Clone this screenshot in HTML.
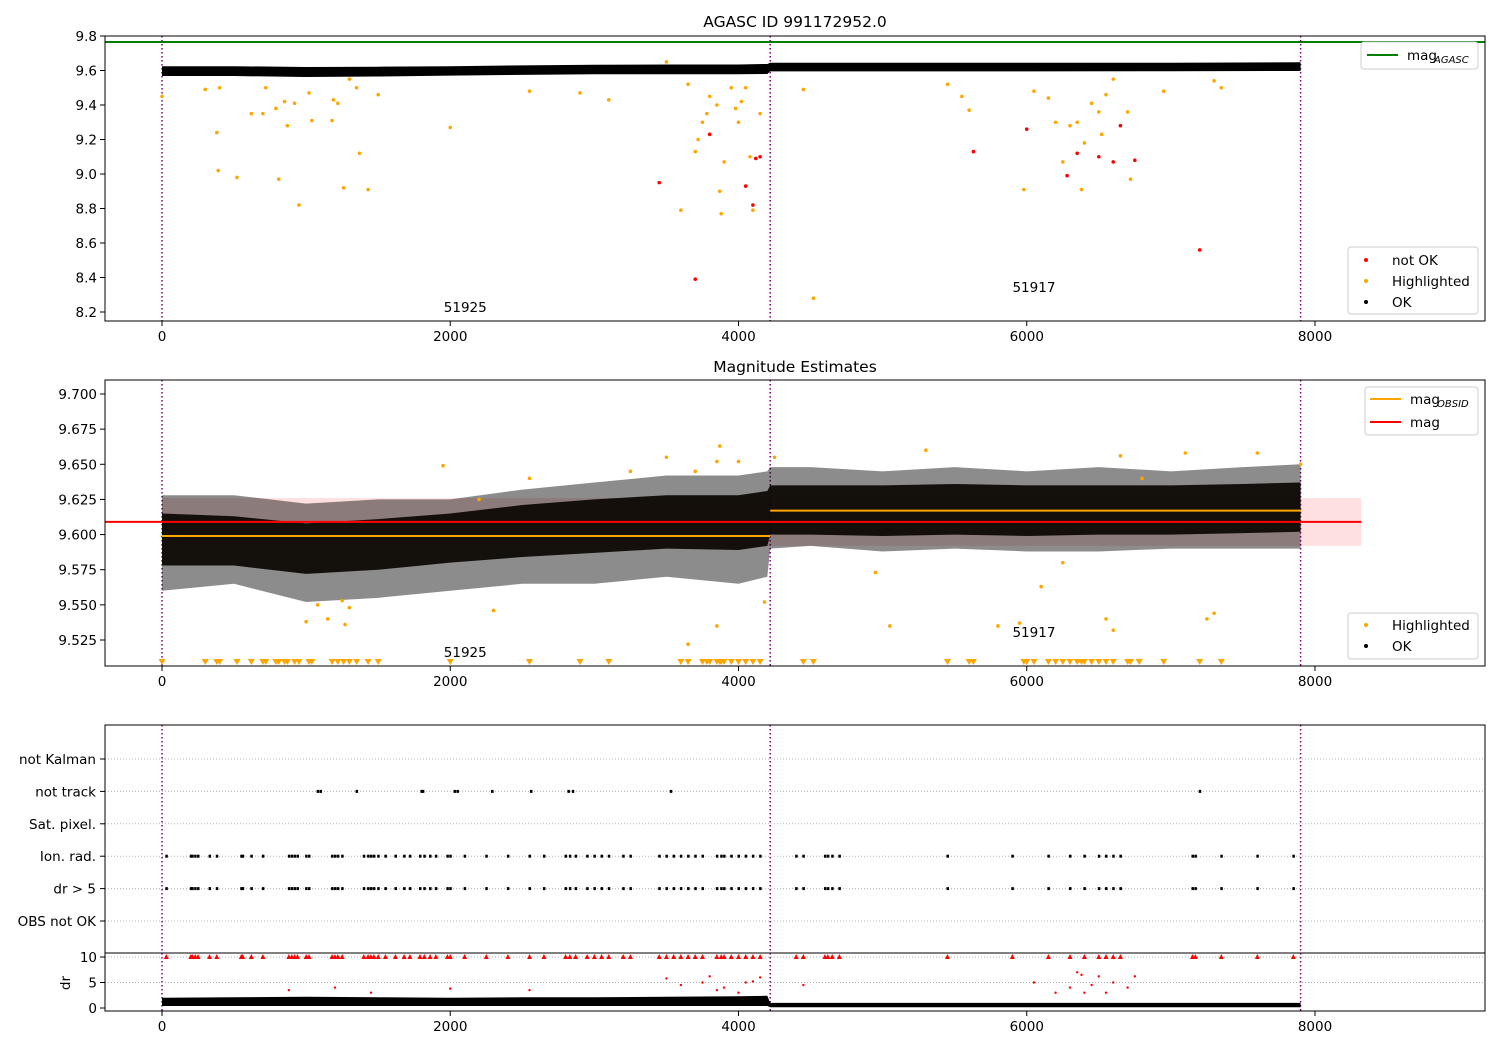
<!DOCTYPE html>
<html><head><meta charset="utf-8"><style>
body{margin:0;background:#fff}
svg{display:block;font-family:"DejaVu Sans","Liberation Sans",sans-serif}
</style></head><body>
<svg id="chart" width="1500" height="1050" viewBox="0 0 1500 1050" xmlns="http://www.w3.org/2000/svg"></svg>
<script>
// ---- data ----
const segmentBreaks = [0, 4220, 7900];
const obsidLabels = ["51925", "51917"];
const magAgasc = 9.765;
const topOkX = [0, 500, 1000, 1500, 2000, 2500, 3000, 3500, 4000, 4200, 4220, 5000, 6000, 7000, 7900];
const topOkLo = [9.568, 9.568, 9.562, 9.565, 9.57, 9.575, 9.578, 9.578, 9.578, 9.58, 9.595, 9.595, 9.595, 9.596, 9.597];
const topOkHi = [9.625, 9.625, 9.62, 9.622, 9.625, 9.63, 9.633, 9.635, 9.635, 9.638, 9.645, 9.645, 9.645, 9.645, 9.648];
const topHiX = [0,300,380,390,400,520,620,700,720,790,810,850,870,920,950,1020,1040,1180,1190,1220,1260,1300,1350,1370,1430,1500,2000,2550,2900,3100,3500,3600,3650,3700,3720,3750,3780,3800,3850,3870,3880,3900,3950,3980,4000,4020,4050,4080,4100,4150,4450,4520,5450,5550,5600,5980,6050,6150,6200,6250,6300,6350,6380,6400,6450,6500,6520,6550,6600,6700,6720,6950,7300,7350];
const topHiY = [9.45,9.49,9.24,9.02,9.5,8.98,9.35,9.35,9.5,9.38,8.97,9.42,9.28,9.41,8.82,9.47,9.31,9.31,9.43,9.41,8.92,9.55,9.5,9.12,8.91,9.46,9.27,9.48,9.47,9.43,9.65,8.79,9.52,9.13,9.2,9.3,9.35,9.45,9.4,8.9,8.77,9.07,9.5,9.38,9.3,9.42,9.5,9.1,8.79,9.35,9.49,8.28,9.52,9.45,9.37,8.91,9.48,9.44,9.3,9.07,9.28,9.3,8.91,9.18,9.41,9.36,9.23,9.46,9.55,9.36,8.97,9.48,9.54,9.5];
const topBadX = [3450,3700,3800,4050,4100,4120,4150,5630,6000,6280,6350,6500,6600,6650,6750,7200];
const topBadY = [8.95,8.39,9.23,8.93,8.82,9.09,9.1,9.13,9.26,8.99,9.12,9.1,9.07,9.28,9.08,8.56];
const topTicksY = [9.8,9.6,9.4,9.2,9.0,8.8,8.6,8.4,8.2];
const xTicks = [0,2000,4000,6000,8000];

const midX = [0,500,1000,1500,2000,2500,3000,3500,4000,4200,4220,4500,5000,5500,6000,6500,7000,7500,7900];
const midOuterLo = [9.56,9.565,9.552,9.555,9.56,9.565,9.565,9.57,9.565,9.57,9.59,9.592,9.588,9.59,9.588,9.588,9.59,9.59,9.59];
const midOuterHi = [9.628,9.628,9.622,9.625,9.625,9.632,9.637,9.642,9.642,9.645,9.648,9.648,9.645,9.648,9.645,9.648,9.645,9.648,9.65];
const midCoreLo = [9.578,9.578,9.572,9.575,9.58,9.584,9.587,9.59,9.589,9.592,9.6,9.6,9.599,9.6,9.599,9.6,9.6,9.601,9.602];
const midCoreHi = [9.615,9.613,9.608,9.611,9.615,9.621,9.625,9.628,9.628,9.631,9.635,9.635,9.635,9.636,9.635,9.635,9.635,9.636,9.637];
const magObsid = [9.599, 9.617];
const magMean = 9.609;
const magStd = 0.017;
const midHiX = [1950,2300,1000,1080,1150,1250,1270,1300,3500,3650,3850,4000,3700,4180,5050,5800,5950,6100,6250,6550,6600,7250,7300,4950,4250,3870,2200,2550,3250,3850,5300,6650,6800,7100,7600,7900];
const midHiY = [9.649,9.546,9.538,9.55,9.54,9.553,9.536,9.548,9.655,9.522,9.535,9.652,9.645,9.552,9.535,9.535,9.537,9.563,9.58,9.54,9.532,9.54,9.544,9.573,9.655,9.663,9.625,9.64,9.645,9.652,9.66,9.656,9.64,9.658,9.658,9.65];
const midTriX = [0,300,380,400,520,620,700,720,790,810,850,870,920,950,1020,1040,1180,1220,1260,1300,1350,1430,1500,2000,2550,2900,3100,3600,3650,3750,3780,3800,3850,3870,3880,3900,3950,4000,4050,4100,4150,4450,4520,5450,5600,5630,5980,6000,6050,6150,6200,6250,6300,6350,6380,6400,6450,6500,6550,6600,6700,6720,6780,6950,7200,7350];
const midTicksY = [9.700,9.675,9.650,9.625,9.600,9.575,9.550,9.525];

const flagNames = ["not Kalman","not track","Sat. pixel.","Ion. rad.","dr > 5","OBS not OK"];
const notTrackX = [1080,1100,1350,1800,1810,2030,2050,2290,2560,2820,2850,3530,7200];
const ionRadX = [30,200,210,230,250,330,380,550,560,620,700,880,900,920,940,1000,1020,1180,1200,1220,1250,1400,1430,1450,1470,1500,1550,1620,1680,1720,1790,1820,1860,1900,1980,2000,2100,2250,2400,2550,2650,2800,2830,2870,2950,3000,3050,3100,3200,3250,3450,3500,3550,3600,3650,3700,3750,3850,3880,3900,3950,4000,4050,4100,4150,4400,4450,4600,4620,4650,4700,5450,5900,6150,6300,6400,6500,6550,6600,6650,7150,7170,7350,7600,7850];
const drX = [0,500,1000,1500,2000,2500,3000,3500,4000,4200,4220,5000,6000,7000,7900];
const drLo = [0.4,0.4,0.4,0.4,0.4,0.4,0.4,0.4,0.4,0.4,0.15,0.15,0.15,0.15,0.15];
const drHi = [2.0,2.1,2.2,2.1,2.0,2.1,2.1,2.2,2.3,2.4,1.0,1.0,1.0,1.0,1.0];
const drRedX = [3500,3600,3750,3800,3850,3900,4000,4050,4100,4150,4450,6050,6200,6300,6350,6380,6400,6450,6500,6550,6600,6700,6750,880,1200,1450,2000,2550];
const drRedY = [5.8,4.5,5,6.2,3.5,4,3,5,5.2,6,4.5,5,3,4,7,6.5,3,4.5,6.2,3,5,4,6.2,3.5,4,3,3.8,3.5];
const drTicks = [10,5,0];

// ---- scales ----
const X0 = 105, X1 = 1485;
const sx = v => 162 + v * 1153 / 8000;
const syTop = v => 36 + (9.8 - v) * 172.5;
const syMid = v => 394 + (9.7 - v) * 1405.7;
const flagY = i => 759 + i * 32.4;
const syDr = v => 1008 - v * 5.1;

const svg = document.getElementById('chart');
const NS = 'http://www.w3.org/2000/svg';
function el(tag, attrs, parent) {
  const e = document.createElementNS(NS, tag);
  for (const k in attrs) e.setAttribute(k, attrs[k]);
  (parent || svg).appendChild(e);
  return e;
}
function txt(x, y, s, attrs, parent) {
  const t = el('text', Object.assign({x, y, 'font-size': 13.5, fill: '#000'}, attrs || {}), parent);
  t.textContent = s;
  return t;
}
function bandPath(xs, lo, hi, sy) {
  let d = '';
  xs.forEach((x, i) => d += (i ? 'L' : 'M') + sx(x) + ',' + sy(hi[i]));
  for (let i = xs.length - 1; i >= 0; i--) d += 'L' + sx(xs[i]) + ',' + sy(lo[i]);
  return d + 'Z';
}
function xAxis(yb, g) {
  xTicks.forEach(v => {
    el('line', {x1: sx(v), x2: sx(v), y1: yb, y2: yb + 5, stroke: '#000'}, g);
    txt(sx(v), yb + 20, String(v), {'text-anchor': 'middle'}, g);
  });
}
function vlines(y0, y1, g) {
  segmentBreaks.forEach(v => {
    const l = el('line', {x1: sx(v), x2: sx(v), y1: y0, y2: y1, stroke: '#800080', 'stroke-width': 1.5, 'stroke-dasharray': '1.5,2.5'}, g);
    
    
  });
}
function dot(x, y, r, c, g) { return el('circle', {cx: x, cy: y, r, fill: c}, g); }

// ===== top panel =====
const gTop = el('g', {});


txt(795, 27, 'AGASC ID 991172952.0', {'text-anchor': 'middle', 'font-size': 15.5}, gTop);
const gl = el('line', {x1: X0, x2: X1, y1: syTop(magAgasc), y2: syTop(magAgasc), stroke: 'green', 'stroke-width': 2}, gTop);


vlines(36, 321, gTop);
const tb = el('path', {d: bandPath(topOkX, topOkLo, topOkHi, syTop), fill: '#000'}, gTop);


topHiX.forEach((x, i) => dot(sx(x), syTop(topHiY[i]), 1.8, 'orange', gTop));
topBadX.forEach((x, i) => dot(sx(x), syTop(topBadY[i]), 1.8, 'red', gTop));
txt(sx(2000) + 15, 312, obsidLabels[0], {'text-anchor': 'middle'}, gTop);
txt(sx(6050), 292, obsidLabels[1], {'text-anchor': 'middle'}, gTop);
el('rect', {x: X0, y: 36, width: X1 - X0, height: 285, fill: 'none', stroke: '#000'}, gTop);
topTicksY.forEach(v => {
  el('line', {x1: X0 - 5, x2: X0, y1: syTop(v), y2: syTop(v), stroke: '#000'}, gTop);
  txt(X0 - 8, syTop(v) + 5, v.toFixed(1), {'text-anchor': 'end'}, gTop);
});
xAxis(321, gTop);
const lg1 = el('g', {}, gTop);


el('rect', {x: 1361, y: 42, width: 117, height: 27, rx: 3, fill: '#fff', stroke: '#ccc'}, lg1);
el('line', {x1: 1367, x2: 1398, y1: 55, y2: 55, stroke: 'green', 'stroke-width': 2}, lg1);
txt(1407, 60, 'mag', {}, lg1);
txt(1434, 63, 'AGASC', {'font-size': 10, 'font-style': 'italic'}, lg1);
const lg2 = el('g', {}, gTop);


el('rect', {x: 1348, y: 247, width: 130, height: 67, rx: 3, fill: '#fff', stroke: '#ccc'}, lg2);
[['not OK', 'red'], ['Highlighted', 'orange'], ['OK', '#000']].forEach((p, i) => {
  dot(1366, 260 + i * 21, 2, p[1], lg2);
  txt(1392, 265 + i * 21, p[0], {}, lg2);
});

// ===== middle panel =====
const gMid = el('g', {});


txt(795, 372, 'Magnitude Estimates', {'text-anchor': 'middle', 'font-size': 15.5}, gMid);
const stdBand = el('rect', {x: sx(0), y: syMid(magMean + magStd), width: sx(8320) - sx(0), height: syMid(magMean - magStd) - syMid(magMean + magStd), fill: 'rgba(255,0,0,0.12)'}, gMid);


vlines(380, 666, gMid);
const mo = el('path', {d: bandPath(midX, midOuterLo, midOuterHi, syMid), fill: 'rgba(0,0,0,0.45)'}, gMid);


const mc = el('path', {d: bandPath(midX, midCoreLo, midCoreHi, syMid), fill: 'rgba(10,5,0,0.92)'}, gMid);


el('line', {x1: sx(0), x2: sx(4220), y1: syMid(magObsid[0]), y2: syMid(magObsid[0]), stroke: 'orange', 'stroke-width': 2}, gMid);
el('line', {x1: sx(4220), x2: sx(7900), y1: syMid(magObsid[1]), y2: syMid(magObsid[1]), stroke: 'orange', 'stroke-width': 2}, gMid);
el('line', {x1: X0, x2: sx(8320), y1: syMid(magMean), y2: syMid(magMean), stroke: 'red', 'stroke-width': 2}, gMid);
midHiX.forEach((x, i) => dot(sx(x), syMid(midHiY[i]), 1.8, 'orange', gMid));
midTriX.forEach(x => el('path', {d: `M${sx(x)-3.5},659 L${sx(x)+3.5},659 L${sx(x)},665 Z`, fill: 'orange'}, gMid));
txt(sx(2000) + 15, 657, obsidLabels[0], {'text-anchor': 'middle'}, gMid);
txt(sx(6050), 637, obsidLabels[1], {'text-anchor': 'middle'}, gMid);
el('rect', {x: X0, y: 380, width: X1 - X0, height: 286, fill: 'none', stroke: '#000'}, gMid);
midTicksY.forEach(v => {
  el('line', {x1: X0 - 5, x2: X0, y1: syMid(v), y2: syMid(v), stroke: '#000'}, gMid);
  txt(X0 - 8, syMid(v) + 5, v.toFixed(3), {'text-anchor': 'end'}, gMid);
});
xAxis(666, gMid);
const lg3 = el('g', {}, gMid);


el('rect', {x: 1365, y: 387, width: 113, height: 48, rx: 3, fill: '#fff', stroke: '#ccc'}, lg3);
el('line', {x1: 1370, x2: 1401, y1: 399, y2: 399, stroke: 'orange', 'stroke-width': 2}, lg3);
txt(1410, 404, 'mag', {}, lg3);
txt(1437, 407, 'OBSID', {'font-size': 10, 'font-style': 'italic'}, lg3);
el('line', {x1: 1370, x2: 1401, y1: 422, y2: 422, stroke: 'red', 'stroke-width': 2}, lg3);
txt(1410, 427, 'mag', {}, lg3);
const lg4 = el('g', {}, gMid);


el('rect', {x: 1348, y: 613, width: 130, height: 46, rx: 3, fill: '#fff', stroke: '#ccc'}, lg4);
[['Highlighted', 'orange'], ['OK', '#000']].forEach((p, i) => {
  dot(1366, 625 + i * 21, 2, p[1], lg4);
  txt(1392, 630 + i * 21, p[0], {}, lg4);
});

// ===== flags panel =====
const gFl = el('g', {});


flagNames.forEach((n, i) => {
  el('line', {x1: X0, x2: X1, y1: flagY(i), y2: flagY(i), stroke: '#b0b0b0', 'stroke-dasharray': '1,2'}, gFl);
  el('line', {x1: X0 - 5, x2: X0, y1: flagY(i), y2: flagY(i), stroke: '#000'}, gFl);
  txt(X0 - 9, flagY(i) + 5, n, {'text-anchor': 'end'}, gFl);
});
vlines(725, 1011, gFl);
notTrackX.forEach(x => el('rect', {x: sx(x) - 1, y: flagY(1) - 1.5, width: 2.5, height: 3, fill: '#000'}, gFl));
ionRadX.forEach(x => {
  el('rect', {x: sx(x) - 1, y: flagY(3) - 1.5, width: 2.5, height: 3, fill: '#000'}, gFl);
  el('rect', {x: sx(x) - 1, y: flagY(4) - 1.5, width: 2.5, height: 3, fill: '#000'}, gFl);
});
el('rect', {x: X0, y: 725, width: X1 - X0, height: 228, fill: 'none', stroke: '#000'}, gFl);

// ===== dr panel =====
const gDr = el('g', {});


[10, 5].forEach(v => el('line', {x1: X0, x2: X1, y1: syDr(v), y2: syDr(v), stroke: '#b0b0b0', 'stroke-dasharray': '1,2'}, gDr));
const db = el('path', {d: bandPath(drX, drLo, drHi, syDr), fill: '#000'}, gDr);


ionRadX.forEach(x => el('path', {d: `M${sx(x)-2.5},${syDr(10)+2} L${sx(x)+2.5},${syDr(10)+2} L${sx(x)},${syDr(10)-3} Z`, fill: 'red'}, gDr));
drRedX.forEach((x, i) => dot(sx(x), syDr(drRedY[i]), 1.2, 'red', gDr));
el('rect', {x: X0, y: 953, width: X1 - X0, height: 58, fill: 'none', stroke: '#000'}, gDr);
drTicks.forEach(v => {
  el('line', {x1: X0 - 5, x2: X0, y1: syDr(v), y2: syDr(v), stroke: '#000'}, gDr);
  txt(X0 - 8, syDr(v) + 5, String(v), {'text-anchor': 'end'}, gDr);
});
txt(70, 983, 'dr', {'text-anchor': 'middle', transform: 'rotate(-90 70 983)'}, gDr);
xAxis(1011, gDr);
</script>
</body></html>
